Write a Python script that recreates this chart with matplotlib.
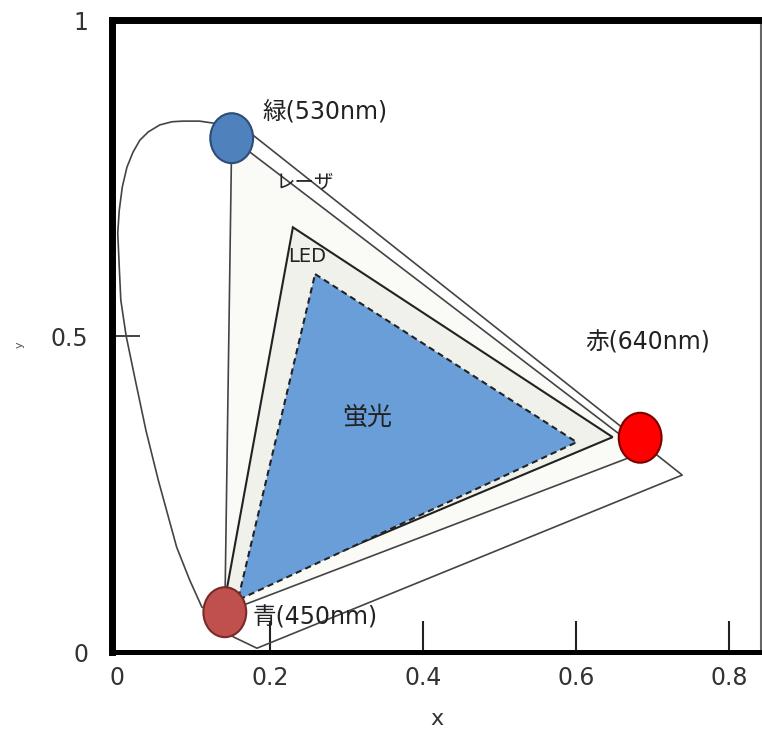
import matplotlib
matplotlib.use("Agg")
import matplotlib.pyplot as plt
from matplotlib.patches import Polygon, Ellipse

plt.rcParams['font.family'] = ['DejaVu Sans', 'Noto Sans CJK JP']

# spectral locus (chromaticity x, y)
locus_x = [0.141, 0.152, 0.183, 0.739, 0.161, 0.125, 0.108, 0.086, 0.072, 0.056,
           0.041, 0.030, 0.021, 0.013, 0.007, 0.003, 0.001, 0.003, 0.005, 0.012,
           0.024, 0.038, 0.054, 0.078, 0.095, 0.111, 0.141]
locus_y = [0.059, 0.024, 0.006, 0.280, 0.834, 0.837, 0.840, 0.840, 0.839, 0.834,
           0.823, 0.810, 0.791, 0.767, 0.736, 0.699, 0.663, 0.609, 0.557, 0.500,
           0.430, 0.350, 0.272, 0.166, 0.114, 0.071, 0.059]

# gamut triangles
laser_x = [0.150, 0.688, 0.141]
laser_y = [0.813, 0.316, 0.063]
led_x = [0.230, 0.648, 0.141]
led_y = [0.672, 0.340, 0.082]
phos_x = [0.259, 0.601, 0.158]
phos_y = [0.598, 0.332, 0.082]

# laser primaries
prim_names = ['緑(530nm)', '赤(640nm)', '青(450nm)']
prim_x = [0.150, 0.684, 0.141]
prim_y = [0.813, 0.339, 0.063]
prim_fill = ['#4f81bd', '#ff0000', '#c0504d']
prim_edge = ['#2c4d75', '#7a0000', '#7a2a28']
label_x = [0.190, 0.612, 0.178]
label_y = [0.853, 0.489, 0.054]

xtick_vals = [0, 0.2, 0.4, 0.6, 0.8]
xtick_text = ['0', '0.2', '0.4', '0.6', '0.8']
ytick_vals = [0, 0.5, 1]
ytick_text = ['0', '0.5', '1']

fig = plt.figure(figsize=(7.62, 7.31), dpi=100)
ax = fig.add_axes([112 / 762, 79 / 731, 649 / 762, 632 / 731])
ax.set_xlim(-0.0065, 0.842)
ax.set_ylim(0, 1)

ax.add_patch(Polygon(list(zip(laser_x, laser_y)), closed=True, facecolor='#fafaf7',
                     edgecolor='#444444', lw=1.2, zorder=1))
ax.add_patch(Polygon(list(zip(led_x, led_y)), closed=True, facecolor='#f1f1eb',
                     edgecolor='#222222', lw=1.5, zorder=1.2))
ax.add_patch(Polygon(list(zip(phos_x, phos_y)), closed=True, facecolor='#6a9ed9',
                     edgecolor='#222222', lw=1.5, linestyle=(0, (3, 2)), zorder=1.4))
ax.plot(locus_x, locus_y, color='#444444', lw=1.2, zorder=1.6, solid_joinstyle='round')

for i in range(3):
    ax.add_patch(Ellipse((prim_x[i], prim_y[i]), 0.056, 0.079, facecolor=prim_fill[i],
                         edgecolor=prim_edge[i], lw=1.5, zorder=4))
    ax.text(label_x[i], label_y[i], prim_names[i], fontsize=17, color='#222222',
            ha='left', va='center', zorder=5)

ax.text(0.207, 0.744, 'レーザ', fontsize=14, color='#222222', ha='left', va='center', zorder=5)
ax.text(0.224, 0.625, 'LED', fontsize=14, color='#222222', ha='left', va='center', zorder=5)
ax.text(0.294, 0.370, '蛍光', fontsize=18, color='#222222', ha='left', va='center', zorder=5)

ax.set_xticks(xtick_vals)
ax.set_xticklabels(xtick_text)
ax.set_yticks(ytick_vals)
ax.set_yticklabels(ytick_text)
ax.tick_params(axis='x', direction='in', length=22, width=1.5, pad=10,
               labelsize=17, color='#222222', labelcolor='#333333')
ax.tick_params(axis='y', direction='in', length=20, width=1.2, pad=17,
               labelsize=17, color='#222222', labelcolor='#333333')
ax.xaxis.get_major_ticks()[0].tick1line.set_visible(False)
ax.yaxis.get_major_ticks()[0].tick1line.set_visible(False)
ax.yaxis.get_major_ticks()[2].tick1line.set_visible(False)

ax.set_xlabel('x', fontsize=16, color='#333333', labelpad=14)
fig.text(20 / 762, 1 - 345 / 731, 'y', rotation=90, fontsize=8, color='#555555',
         ha='center', va='center')

ax.spines['left'].set_linewidth(5)
ax.spines['top'].set_linewidth(5)
ax.spines['bottom'].set_linewidth(3.6)
ax.spines['right'].set_linewidth(1.5)
ax.spines['right'].set_color('#666666')

fig.savefig('out.png', dpi=100)
